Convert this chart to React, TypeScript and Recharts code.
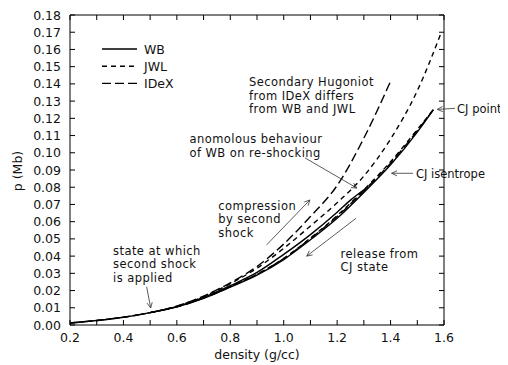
import React from "react";
import { LineChart, Line, XAxis, YAxis, ReferenceArea, ReferenceLine, ReferenceDot, Legend } from "recharts";

// CJ release isentropes (all three models almost coincide)
const isoDensity = [0.2, 0.3, 0.4, 0.5, 0.6, 0.7, 0.8, 0.9, 1.0, 1.1, 1.2, 1.3, 1.4, 1.5, 1.56];
const wbIso = [0.0012, 0.0026, 0.0045, 0.0072, 0.0105, 0.0155, 0.022, 0.029, 0.038, 0.0495, 0.062, 0.077, 0.093, 0.112, 0.125];
const jwlIso = [0.0012, 0.0026, 0.0045, 0.0072, 0.0106, 0.0157, 0.0223, 0.0295, 0.0387, 0.0505, 0.0635, 0.0785, 0.0948, 0.1135, 0.125];
const idexIso = [0.0012, 0.0026, 0.0045, 0.0072, 0.0106, 0.0156, 0.0222, 0.0294, 0.0385, 0.0502, 0.063, 0.078, 0.094, 0.1128, 0.125];

// secondary Hugoniots starting from the state at 0.5 g/cc
const wbHugDensity = [0.5, 0.6, 0.7, 0.8, 0.9, 1.0, 1.1, 1.2, 1.25, 1.317];
const wbHug = [0.0072, 0.0107, 0.016, 0.0228, 0.0305, 0.041, 0.0525, 0.0655, 0.0725, 0.0804];
const jwlHugDensity = [0.5, 0.6, 0.7, 0.8, 0.9, 1.0, 1.1, 1.2, 1.3, 1.4, 1.5, 1.59];
const jwlHug = [0.0072, 0.0109, 0.0165, 0.024, 0.033, 0.0445, 0.0575, 0.071, 0.0865, 0.108, 0.136, 0.17];
const idexHugDensity = [0.5, 0.6, 0.7, 0.8, 0.9, 1.0, 1.1, 1.2, 1.3, 1.4];
const idexHug = [0.0072, 0.011, 0.0168, 0.0245, 0.034, 0.047, 0.063, 0.081, 0.1085, 0.1415];

const xTicks = [0.2, 0.3, 0.4, 0.5, 0.6, 0.7, 0.8, 0.9, 1.0, 1.1, 1.2, 1.3, 1.4, 1.5, 1.6];
const yTicks = [0, 0.01, 0.02, 0.03, 0.04, 0.05, 0.06, 0.07, 0.08, 0.09, 0.1, 0.11, 0.12, 0.13, 0.14, 0.15, 0.16, 0.17, 0.18];

const legendNames = ["WB", "JWL", "IDeX"];

const notes = [
  { x: 0.87, y: 0.1385, lines: ["Secondary Hugoniot", "from IDeX differs", "from WB and JWL"] },
  { x: 0.647, y: 0.1054, lines: ["anomolous behaviour", "of WB on re-shocking"] },
  { x: 0.755, y: 0.067, lines: ["compression", "by second", "shock"] },
  { x: 1.213, y: 0.039, lines: ["release from", "CJ state"] },
  { x: 0.361, y: 0.0409, lines: ["state at which", "second shock", "is applied"] },
  { x: 1.495, y: 0.0855, lines: ["CJ isentrope"] },
  { x: 1.649, y: 0.1232, lines: ["CJ point"] },
];

const arrows = [
  { from: [0.487, 0.0222], to: [0.502, 0.0099] },
  { from: [0.936, 0.0465], to: [1.098, 0.0726] },
  { from: [1.271, 0.062], to: [1.086, 0.04] },
  { from: [1.08, 0.097], to: [1.274, 0.0795] },
  { from: [1.484, 0.0881], to: [1.404, 0.0881] },
  { from: [1.641, 0.1258], to: [1.575, 0.1252] },
];

const FONT = "DejaVu Sans";
const FS = 12.5;
const NOTE_FS = 11.5;
const PL = 62, PR = 436, PT = 7, PB = 317;
const DASH: Record<string, string | undefined> = { WB: undefined, JWL: "5 4", IDeX: "9 4" };

const pts = (xs: number[], ys: number[]) => xs.map((x, i) => ({ x, p: ys[i] }));

const series = [
  { key: "wbIso", name: "WB", data: pts(isoDensity, wbIso) },
  { key: "jwlIso", name: "JWL", data: pts(isoDensity, jwlIso) },
  { key: "idexIso", name: "IDeX", data: pts(isoDensity, idexIso) },
  { key: "wbHug", name: "WB", data: pts(wbHugDensity, wbHug) },
  { key: "jwlHug", name: "JWL", data: pts(jwlHugDensity, jwlHug) },
  { key: "idexHug", name: "IDeX", data: pts(idexHugDensity, idexHug) },
];

const XTick = (props: any) => {
  const { x, payload } = props;
  const v = payload.value;
  const labelled = Math.round(v * 10) % 2 === 0;
  return (
    <g>
      <line x1={x} x2={x} y1={PB} y2={PB - 5} stroke="#000" />
      <line x1={x} x2={x} y1={PT} y2={PT + 5} stroke="#000" />
      {labelled && (
        <text x={x} y={PB + 16.5} textAnchor="middle" fontFamily={FONT} fontSize={FS} fill="#111">
          {v.toFixed(1)}
        </text>
      )}
    </g>
  );
};

const YTick = (props: any) => {
  const { y, payload } = props;
  return (
    <g>
      <line x1={PL} x2={PL + 5} y1={y} y2={y} stroke="#000" />
      <line x1={PR} x2={PR - 5} y1={y} y2={y} stroke="#000" />
      <text x={PL - 9} y={y + 4.5} textAnchor="end" fontFamily={FONT} fontSize={FS} fill="#111">
        {payload.value.toFixed(2)}
      </text>
    </g>
  );
};

const Arrow = (props: any) => {
  const { x1, y1, x2, y2 } = props;
  const a = Math.atan2(y2 - y1, x2 - x1);
  const len = 6, w = 0.45;
  const ax = x2 - len * Math.cos(a - w), ay = y2 - len * Math.sin(a - w);
  const bx = x2 - len * Math.cos(a + w), by = y2 - len * Math.sin(a + w);
  return (
    <g stroke="#333" strokeWidth={0.8} fill="none">
      <line x1={x1} y1={y1} x2={x2} y2={y2} />
      <path d={`M${ax},${ay} L${x2},${y2} L${bx},${by}`} />
    </g>
  );
};

const Note = (lines: string[]) => (props: any) => {
  const { cx, cy } = props;
  return (
    <text x={cx} y={cy} fontFamily={FONT} fontSize={NOTE_FS} letterSpacing={lines.length > 1 ? 0.45 : 0} fill="#111">
      {lines.map((l, i) => (
        <tspan key={i} x={cx} dy={i === 0 ? 0 : 13.5}>
          {l}
        </tspan>
      ))}
    </text>
  );
};

const LegendBox = () => (
  <svg width={100} height={52} style={{ display: "block" }}>
    {legendNames.map((n, i) => (
      <g key={n}>
        <line x1={0} x2={35} y1={8 + i * 17.2} y2={8 + i * 17.2} stroke="#000" strokeWidth={1.4} strokeDasharray={DASH[n]} />
        <text x={42} y={12.5 + i * 17.2} fontFamily={FONT} fontSize={FS} fill="#111">
          {n}
        </text>
      </g>
    ))}
  </svg>
);

export default function App() {
  return (
    <div style={{ width: 500, height: 357 }}>
      <style>{`.recharts-surface { overflow: visible; }`}</style>
      <LineChart width={500} height={357} margin={{ top: 7, right: 64, left: 0, bottom: 0 }}>
        <XAxis
          type="number"
          dataKey="x"
          domain={[0.2, 1.6]}
          ticks={xTicks}
          interval={0}
          allowDataOverflow
          axisLine={false}
          tickLine={false}
          height={40}
          tick={(p: any) => <XTick {...p} />}
          label={() => (
            <text x={(PL + PR) / 2} y={351} textAnchor="middle" fontFamily={FONT} fontSize={FS} fill="#111">
              density (g/cc)
            </text>
          )}
        />
        <YAxis
          type="number"
          domain={[0, 0.18]}
          ticks={yTicks}
          interval={0}
          allowDataOverflow
          axisLine={false}
          tickLine={false}
          width={62}
          tick={(p: any) => <YTick {...p} />}
          label={() => (
            <text
              x={9}
              y={163}
              transform="rotate(-90 9 163)"
              textAnchor="middle"
              dominantBaseline="central"
              fontFamily={FONT}
              fontSize={FS}
              fill="#111"
            >
              p (Mb)
            </text>
          )}
        />
        <ReferenceArea x1={0.2} x2={1.6} y1={0} y2={0.18} fill="none" stroke="#000" strokeWidth={1} ifOverflow="visible" />
        {series.map((s) => (
          <Line
            key={s.key}
            data={s.data}
            dataKey="p"
            name={s.name}
            type="monotone"
            stroke="#000"
            strokeWidth={1.4}
            strokeDasharray={DASH[s.name]}
            dot={false}
            activeDot={false}
            legendType="none"
            isAnimationActive={false}
          />
        ))}
        {arrows.map((a, i) => (
          <ReferenceLine
            key={i}
            segment={[
              { x: a.from[0], y: a.from[1] },
              { x: a.to[0], y: a.to[1] },
            ]}
            ifOverflow="visible"
            shape={(p: any) => <Arrow {...p} />}
          />
        ))}
        {notes.map((n, i) => (
          <ReferenceDot key={i} x={n.x} y={n.y} r={0} ifOverflow="visible" shape={Note(n.lines)} />
        ))}
        <Legend
          layout="vertical"
          align="center"
          verticalAlign="middle"
          wrapperStyle={{ left: 94, top: 33, width: 100 }}
          content={() => <LegendBox />}
        />
      </LineChart>
    </div>
  );
}
